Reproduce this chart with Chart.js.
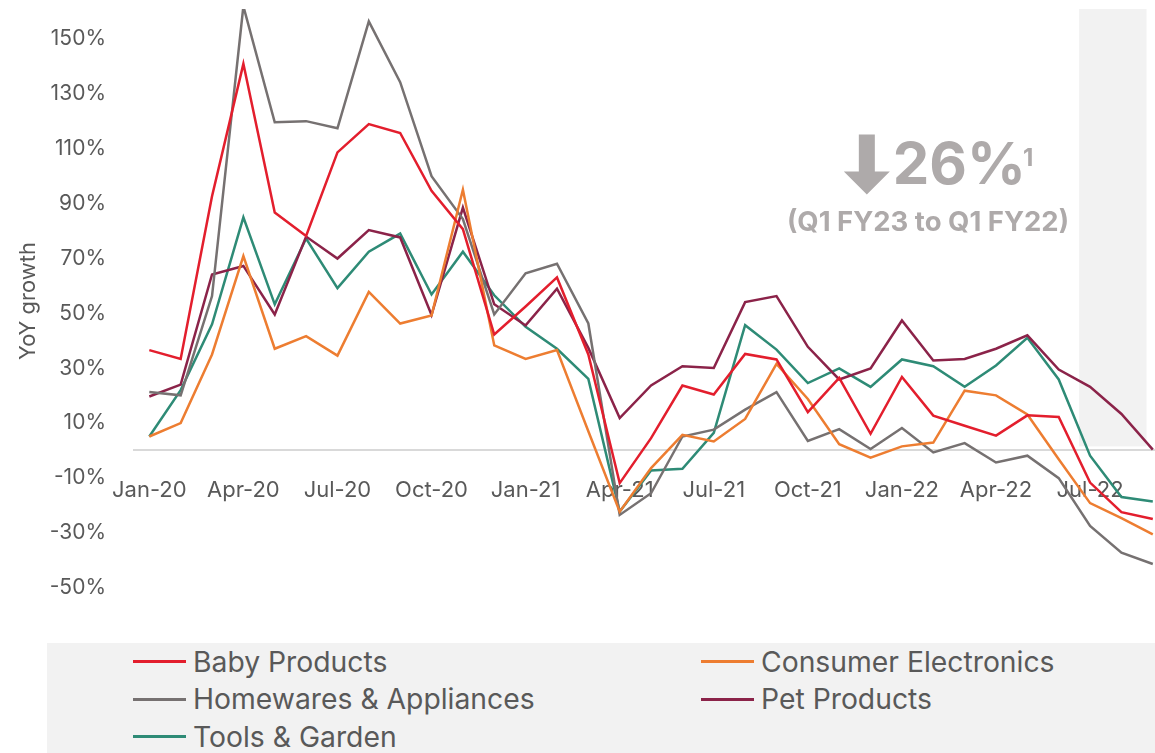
<!DOCTYPE html>
<html>
<head>
<meta charset="utf-8">
<script src="https://cdn.jsdelivr.net/npm/chart.js@4.4.1/dist/chart.umd.min.js"></script>
<style>
  html, body { margin: 0; padding: 0; background: #ffffff; }
  #wrap { position: relative; width: 1155px; height: 753px; overflow: hidden; font-family: Inter, "Liberation Sans", sans-serif; }
  #chartBox { position: absolute; left: 0; top: 0; width: 1155px; height: 643px; }
  #legend { position: absolute; left: 47px; top: 643px; width: 1108px; height: 110px; background: #f2f2f2; }
  .item { position: absolute; display: flex; align-items: center; height: 38px; color: #595959; font-size: 28.3px; white-space: nowrap; }
  .sw { width: 53px; height: 3px; margin-right: 7px; }
</style>
</head>
<body>
<div id="wrap">
  <div id="chartBox"><canvas id="c"></canvas></div>
  <div id="legend"></div>
</div>
<script>
const categories = ["Jan-20","Feb-20","Mar-20","Apr-20","May-20","Jun-20","Jul-20","Aug-20","Sep-20","Oct-20","Nov-20","Dec-20",
  "Jan-21","Feb-21","Mar-21","Apr-21","May-21","Jun-21","Jul-21","Aug-21","Sep-21","Oct-21","Nov-21","Dec-21",
  "Jan-22","Feb-22","Mar-22","Apr-22","May-22","Jun-22","Jul-22","Aug-22","Sep-22"];

const babyProducts = [36.6, 33.4, 92.7, 141, 86.8, 78.2, 108.7, 119, 115.8, 94.7, 80.7, 42.3, 52.5, 63.1, 35, -11.9, 4.5, 23.7, 20.4, 35.2, 33.2, 14.0, 26.5, 6.1, 26.8, 12.7, 9.0, 5.4, 12.8, 12.2, -11.7, -22.5, -25.0];
const consumerElectronics = [5.1, 10.0, 35.0, 70.9, 37.1, 41.7, 34.6, 57.8, 46.3, 49.2, 95.1, 38.3, 33.4, 36.6, 7, -22.3, -6.4, 5.7, 3.3, 11.5, 31.6, 18.8, 2.3, -2.6, 1.5, 2.9, 21.8, 20.1, 13.1, -3.2, -19.2, -24.7, -30.6];
const homewaresAppliances = [21.3, 20.1, 56.3, 162, 119.7, 120.1, 117.5, 156.5, 134.3, 100.0, 84.4, 49.6, 64.6, 68.1, 46.3, -23.5, -15.6, 5.1, 7.6, 14.9, 21.3, 3.5, 7.8, 0.5, 8.2, -0.7, 2.7, -4.4, -1.9, -10.1, -27.5, -37.3, -41.4];
const petProducts = [19.7, 24.0, 64.2, 67.3, 49.6, 78.0, 70.0, 80.4, 77.7, 49.4, 88.6, 53.3, 45.6, 59.0, 37.4, 11.8, 23.7, 30.7, 30.1, 54.1, 56.3, 37.8, 25.9, 29.9, 47.4, 32.8, 33.4, 37.1, 42.0, 29.5, 23.2, 13.3, 0.3];
const toolsGarden = [5.1, 22, 46.0, 85.0, 53.3, 77.3, 59.2, 72.5, 79.1, 56.9, 72.5, 56.6, 45.1, 37.1, 26.1, -22.3, -7.3, -6.7, 6.4, 45.7, 36.8, 24.6, 29.9, 23.2, 33.2, 30.7, 23.2, 31.0, 41.1, 25.9, -1.9, -17.0, -18.6];

const seriesNames = ["Baby Products", "Consumer Electronics", "Homewares & Appliances", "Pet Products", "Tools & Garden"];
const seriesColors = ["#e31e2d", "#ed7d31", "#767171", "#8b2349", "#2e8b76"];
const yTicks = [-50, -30, -10, 10, 30, 50, 70, 90, 110, 130, 150];
const xTickIdx = [0, 3, 6, 9, 12, 15, 18, 21, 24, 27, 30];
const yTitle = "YoY growth";
const annotationBig = "26%";
const annotationSup = "1";
const annotationSmall = "(Q1 FY23 to Q1 FY22)";
const shadeFrom = 29.65, shadeTo = 31.8;

const allSeries = [babyProducts, consumerElectronics, homewaresAppliances, petProducts, toolsGarden];
const textColor = "#595959";
const fontFam = "Inter, 'Liberation Sans', sans-serif";

const shadePlugin = {
  id: 'shade',
  beforeDatasetsDraw(chart) {
    const {ctx, chartArea, scales: {x, y}} = chart;
    const x0 = x.getPixelForValue(shadeFrom), x1 = x.getPixelForValue(shadeTo);
    const y0 = chartArea.top, y1 = y.getPixelForValue(1.5);
    ctx.save();
    ctx.fillStyle = "#f2f2f2";
    ctx.fillRect(x0, y0, x1 - x0, y1 - y0);
    ctx.restore();
  }
};

const annotPlugin = {
  id: 'annot',
  afterDraw(chart) {
    const {ctx, scales: {x, y}} = chart;
    ctx.save();
    // y axis title
    ctx.fillStyle = textColor;
    ctx.font = "22px " + fontFam;
    ctx.textAlign = "center";
    ctx.textBaseline = "middle";
    ctx.translate(28, y.getPixelForValue(54.5));
    ctx.rotate(-Math.PI / 2);
    ctx.fillText(yTitle, 0, 0);
    ctx.restore();

    ctx.save();
    ctx.fillStyle = "#aeaaaa";
    const bx = x.getPixelForValue(23.71);
    const by = y.getPixelForValue(97);
    ctx.font = "bold 58px " + fontFam;
    ctx.textBaseline = "alphabetic";
    ctx.textAlign = "left";
    ctx.fillText(annotationBig, bx, by);
    const w = ctx.measureText(annotationBig).width;
    ctx.font = "bold 24px " + fontFam;
    ctx.fillText(annotationSup, bx + w - 3, by - 18);
    const cx = bx - 26, top = by - 50, tip = by + 10;
    ctx.beginPath();
    ctx.moveTo(cx - 8, top);
    ctx.lineTo(cx + 8, top);
    ctx.lineTo(cx + 8, tip - 23);
    ctx.lineTo(cx + 23, tip - 23);
    ctx.lineTo(cx, tip);
    ctx.lineTo(cx - 23, tip - 23);
    ctx.lineTo(cx - 8, tip - 23);
    ctx.closePath();
    ctx.fill();
    ctx.font = "bold 27.5px " + fontFam;
    ctx.textAlign = "center";
    ctx.fillText(annotationSmall, x.getPixelForValue(24.83), y.getPixelForValue(80));
    ctx.restore();
  }
};

const chart = new Chart(document.getElementById('c'), {
  type: 'line',
  data: {
    datasets: seriesNames.map((n, k) => ({
      label: n,
      data: allSeries[k].map((v, i) => ({x: i, y: v})),
      borderColor: seriesColors[k],
      backgroundColor: seriesColors[k],
      borderWidth: 2.5,
      pointRadius: 0,
      tension: 0,
      fill: false
    }))
  },
  options: {
    responsive: true,
    maintainAspectRatio: false,
    animation: false,
    layout: { padding: { top: 9, right: 0, bottom: 28, left: 0 } },
    plugins: { legend: { display: false }, tooltip: { enabled: false } },
    scales: {
      x: {
        type: 'linear',
        position: { y: 0 },
        min: -0.488,
        max: 32.07,
        afterBuildTicks(s) { s.ticks = xTickIdx.map(v => ({value: v})); },
        afterFit(s) { s.height = 0; s.paddingLeft = 0; s.paddingRight = 0; s.paddingTop = 0; s.paddingBottom = 0; },
        ticks: {
          autoSkip: false,
          maxRotation: 0,
          padding: 27,
          color: textColor,
          font: { family: fontFam, size: 22 },
          callback: (v) => categories[v]
        },
        grid: { display: false, drawTicks: false, tickLength: 0 },
        border: { display: true, color: "#d9d9d9", width: 2 }
      },
      y: {
        type: 'linear',
        min: -60,
        max: 161,
        afterBuildTicks(s) { s.ticks = yTicks.map(v => ({value: v})); },
        afterFit(s) { s.width = 134; s.paddingTop = 0; s.paddingBottom = 0; },
        ticks: {
          padding: 28,
          color: textColor,
          font: { family: fontFam, size: 21 },
          callback: (v) => v + "%"
        },
        grid: { display: false, drawTicks: false, tickLength: 0 },
        border: { display: false },
        title: { display: false }
      }
    }
  },
  plugins: [shadePlugin, annotPlugin]
});

const lg = document.getElementById('legend');
chart.data.datasets.forEach((ds, i) => {
  const col = i % 2, row = Math.floor(i / 2);
  const it = document.createElement('div');
  it.className = 'item';
  it.style.left = (86 + col * 568) + 'px';
  it.style.top = (18.7 + row * 37.5 - 19) + 'px';
  const sw = document.createElement('span');
  sw.className = 'sw';
  sw.style.background = ds.borderColor;
  const tx = document.createElement('span');
  tx.textContent = ds.label;
  it.appendChild(sw); it.appendChild(tx);
  lg.appendChild(it);
});
</script>
</body>
</html>
